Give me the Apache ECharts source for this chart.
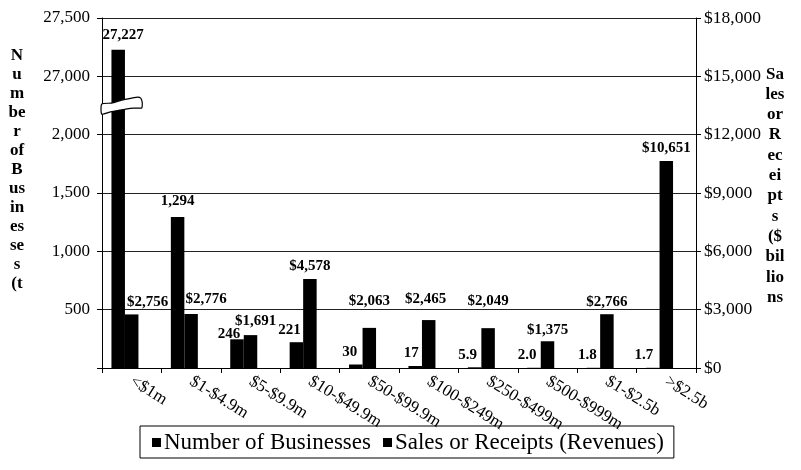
<!DOCTYPE html>
<html>
<head>
<meta charset="utf-8">
<script src="https://cdn.jsdelivr.net/npm/echarts@6/dist/echarts.min.js"></script>
<style>
html,body{margin:0;padding:0;background:#fff;}
#chart{width:801px;height:470px;}
</style>
</head>
<body>
<div id="chart"></div>
<script>
// ---- data ----
const categories = ['<$1m', '$1-$4.9m', '$5-$9.9m', '$10-$49.9m', '$50-$99.9m', '$100-$249m', '$250-$499m', '$500-$999m', '$1-$2.5b', '>$2.5b'];
const businesses = [27227, 1294, 246, 221, 30, 17, 5.9, 2.0, 1.8, 1.7];
const sales = [2756, 2776, 1691, 4578, 2063, 2465, 2049, 1375, 2766, 10651];
const leftTickLabels = ['', '500', '1,000', '1,500', '2,000', '27,000', '27,500'];
const seriesNames = ['Number of Businesses', 'Sales or Receipts (Revenues)'];
const leftTitleLines = ['N', 'u', 'm', 'be', 'r', 'of', 'B', 'us', 'in', 'es', 'se', 's', '(t'];
const rightTitleLines = ['Sa', 'les', 'or', 'R', 'ec', 'ei', 'pt', 's', '($', 'bil', 'lio', 'ns'];

// axis break: values above the break are shifted down by this amount
const breakJump = 27000 - 2500;
const breakMark = 2271;

// ---- style ----
const FONT = '"Liberation Serif", "Times New Roman", serif';
const nudgeNum = [[5, -2], [0, -3], [-8, 7], [-7, 0], [-6, 0], [-4, 0], [-7, 0], [-7, 0], [-6, 0], [-9, 0]];
const nudgeSales = [[16, 0], [15, -2], [5, -1], [0, 0], [0, -14], [-3, -8], [0, -15], [0, 1], [0, 0], [0, 0]];
const breakShape = [[-30, 1], [-20, 0], [-10, -3], [0, -5], [6, -6], [9, -5], [10.5, -1], [10.5, 3], [10, 5], [2, 5], [-6, 6], [-14, 7.5], [-22, 9], [-30, 11]];

function comma(v) { return Math.round(v).toString().replace(/\B(?=(\d{3})+(?!\d))/g, ','); }
function fmtNum(v) { return v >= 10 ? comma(v) : v.toFixed(1); }
function plotVal(v) { return v > 2500 ? v - breakJump : v; }

const chart = echarts.init(document.getElementById('chart'), null, {renderer: 'canvas'});

const labelBase = {
  show: true, position: 'top', distance: 5,
  fontFamily: FONT, fontWeight: 'bold', fontSize: 15, color: '#000'
};

const option = {
  backgroundColor: '#fff',
  animation: false,
  textStyle: {fontFamily: FONT},
  grid: {left: 102, right: 105, top: 18, bottom: 102, containLabel: false},
  legend: {
    data: seriesNames,
    left: 140, top: 426,
    icon: 'rect', itemWidth: 9, itemHeight: 9, itemGap: 12,
    borderColor: '#000', borderWidth: 1, borderRadius: 0,
    padding: [5, 10, 4, 12],
    textStyle: {fontFamily: FONT, fontSize: 23, color: '#000', padding: [0, 0, 0, -2]}
  },
  xAxis: {
    type: 'category',
    data: categories,
    axisLine: {show: true, lineStyle: {color: '#000', width: 1}},
    axisTick: {show: true, length: 5, lineStyle: {color: '#000'}},
    axisLabel: {rotate: -32, margin: 12, fontFamily: FONT, fontSize: 17, color: '#000', interval: 0}
  },
  yAxis: [{
    type: 'value', min: 0, max: 3000, interval: 500,
    axisLine: {show: true, lineStyle: {color: '#000'}},
    axisTick: {show: true, length: 5, lineStyle: {color: '#000'}},
    splitLine: {show: true, lineStyle: {color: '#222', width: 1}},
    axisLabel: {
      fontFamily: FONT, fontSize: 17, color: '#000', margin: 12,
      formatter: function (v) { return leftTickLabels[Math.round(v / 500)]; }
    }
  }, {
    type: 'value', min: 0, max: 18000, interval: 3000, position: 'right',
    axisLine: {show: true, lineStyle: {color: '#000'}},
    axisTick: {show: true, length: 5, lineStyle: {color: '#000'}},
    splitLine: {show: false},
    axisLabel: {
      fontFamily: FONT, fontSize: 17.5, color: '#000', margin: 8,
      formatter: function (v) { return '$' + comma(v); }
    }
  }],
  series: [{
    name: seriesNames[0], type: 'bar', yAxisIndex: 0,
    barWidth: 13.5, barGap: '0%',
    itemStyle: {color: '#000'},
    label: Object.assign({}, labelBase),
    data: businesses.map(function (v, i) {
      return {value: plotVal(v), label: {offset: nudgeNum[i], formatter: fmtNum(v)}};
    })
  }, {
    name: seriesNames[1], type: 'bar', yAxisIndex: 1,
    barWidth: 13.5, barGap: '0%',
    itemStyle: {color: '#000'},
    label: Object.assign({}, labelBase),
    data: sales.map(function (v, i) {
      return {value: v, label: {offset: nudgeSales[i], formatter: '$' + comma(v)}};
    })
  }, {
    name: 'spacer', type: 'bar', yAxisIndex: 1,
    barWidth: 13.5, barGap: '0%',
    data: categories.map(function () { return null; })
  }]
};

chart.setOption(option);

// break symbol on first bar and axis titles
const bx = chart.convertToPixel({xAxisIndex: 0}, categories[0]);
const by = chart.convertToPixel({yAxisIndex: 0}, breakMark);
chart.setOption({
  graphic: [{
    type: 'polygon', x: bx, y: by,
    shape: {points: breakShape, smooth: 0.2},
    style: {fill: '#fff', stroke: '#000', lineWidth: 1.2},
    z: 100
  }, {
    type: 'text', x: 17, y: 46, z: 100,
    style: {
      text: leftTitleLines.join('\n'), fill: '#000', align: 'center',
      font: 'bold 17px ' + FONT, lineHeight: 19
    }
  }, {
    type: 'text', x: 775, y: 64, z: 100,
    style: {
      text: rightTitleLines.join('\n'), fill: '#000', align: 'center',
      font: 'bold 17px ' + FONT, lineHeight: 20.3
    }
  }]
});
</script>
</body>
</html>
